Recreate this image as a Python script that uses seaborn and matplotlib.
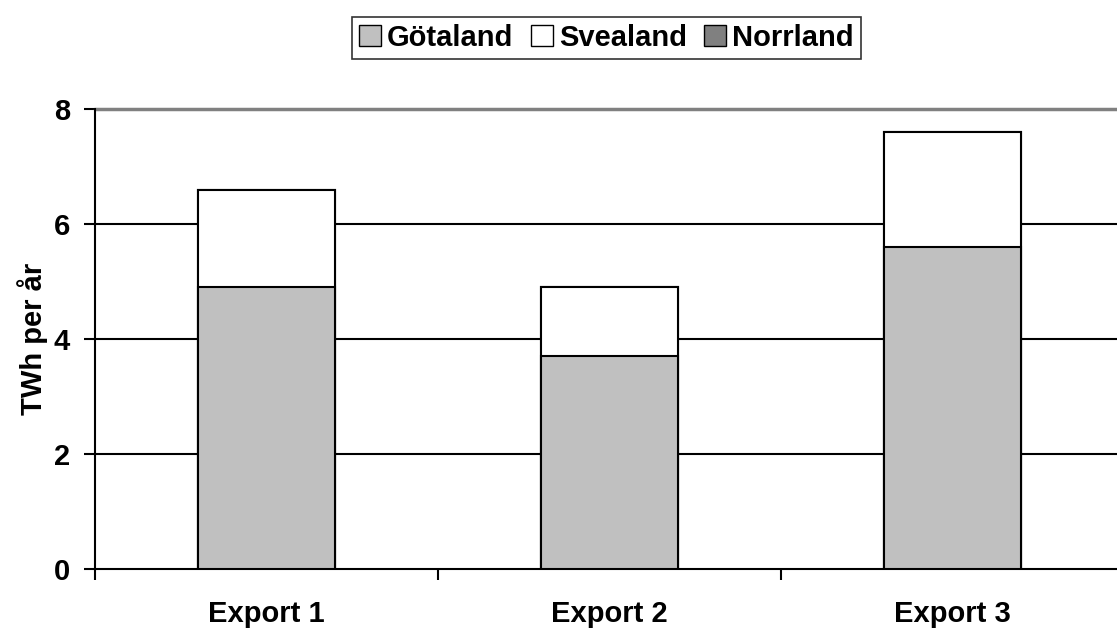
import numpy as np
import pandas as pd
import matplotlib
matplotlib.use('Agg')
import matplotlib.pyplot as plt
import matplotlib.patches as mpatches
import seaborn as sns

##################################################################
categories = ['Export 1', 'Export 2', 'Export 3']
gotaland = [4.9, 3.7, 5.6]
svealand = [1.7, 1.2, 2.0]
norrland = [0.0, 0.0, 0.0]
series = ['Götaland', 'Svealand', 'Norrland']
colors = ['#c0c0c0', '#ffffff', '#808080']
yticks = [0, 2, 4, 6, 8]
##################################################################
sns.set_style('white')
plt.rcParams['font.family'] = ['Liberation Sans', 'DejaVu Sans']
plt.rcParams['font.weight'] = 'bold'
plt.rcParams.update({'text.color': 'black', 'axes.labelcolor': 'black',
                     'xtick.color': 'black', 'ytick.color': 'black'})
fz = 21

df = pd.DataFrame({'Export': categories, 'Götaland': gotaland,
                   'Svealand': svealand, 'Norrland': norrland})
df['top2'] = df['Götaland'] + df['Svealand']
df['top3'] = df['top2'] + df['Norrland']

fig = plt.figure(figsize=[11.17, 6.31], dpi=100)
ax = fig.add_axes([0.085, 0.098, 0.921, 0.729])

# draw cumulative stacks from the top down
for col, c in zip(['top3', 'top2', 'Götaland'], [colors[2], colors[1], colors[0]]):
    sns.barplot(data=df, x='Export', y=col, order=categories, color=c,
                width=0.4, edgecolor='black', linewidth=1.5, ax=ax,
                saturation=1, zorder=3)

ax.set_xlim(-0.5, 2.5)
ax.set_ylim(0, 8)
ax.set_yticks(yticks)
for y in yticks[1:-1]:
    ax.axhline(y, color='black', lw=1.5, zorder=1)
ax.axhline(8, color='#808080', lw=2.5, zorder=1, clip_on=False)

ax.set_xticks([0, 1, 2], categories)
ax.set_xticks([-0.5, 0.5, 1.5], minor=True)
ax.tick_params(axis='x', which='major', length=0, pad=22, labelsize=fz)
ax.tick_params(axis='x', which='minor', length=8, width=1.5, direction='out', bottom=True)
ax.tick_params(axis='y', length=8, width=1.5, direction='out', left=True, labelsize=fz, pad=10)
for lab in ax.get_xticklabels() + ax.get_yticklabels():
    lab.set_fontweight('bold')

ax.set_xlabel('')
ax.set_ylabel('TWh per år', fontsize=fz, fontweight='bold', labelpad=4)

for s in ['top', 'right']:
    ax.spines[s].set_visible(False)
for s in ['left', 'bottom']:
    ax.spines[s].set_color('black')
    ax.spines[s].set_linewidth(1.5)

handles = [mpatches.Patch(facecolor=c, edgecolor='black', lw=1.0, label=l)
           for c, l in zip(colors, series)]
leg = fig.legend(handles=handles, loc='center', bbox_to_anchor=(0.543, 0.94), ncol=3,
                 frameon=True, fancybox=False, edgecolor='black',
                 prop={'weight': 'bold', 'size': fz}, handlelength=0.75, handleheight=0.75,
                 handletextpad=0.2, columnspacing=0.6, borderpad=0.25)
leg.get_frame().set_linewidth(1.2)

fig.savefig('out.png', dpi=100)
